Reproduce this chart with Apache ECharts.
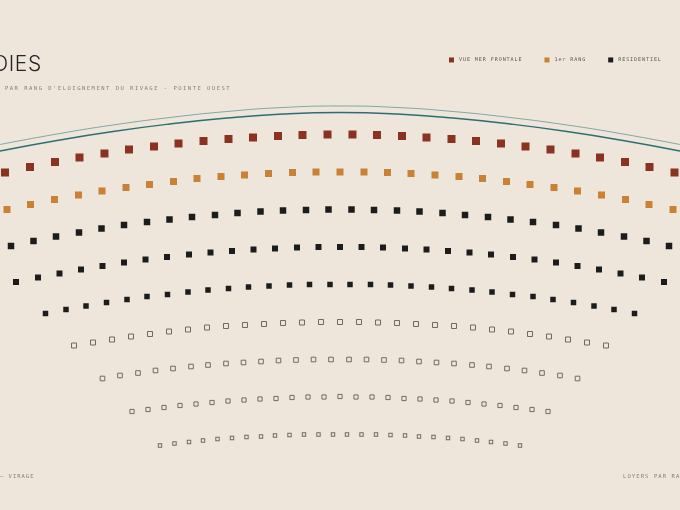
<!DOCTYPE html>
<html>
<head>
<meta charset="utf-8">
<script src="https://cdn.jsdelivr.net/npm/echarts@6/dist/echarts.min.js"></script>
<style>
  html, body { margin: 0; padding: 0; background: #eee6da; }
  #chart { width: 680px; height: 510px; }
</style>
</head>
<body>
<div id="chart"></div>
<script>
// letter-spacing support for canvas text (font family marker "lspNN" = NN/10 px)
(function () {
  var P = CanvasRenderingContext2D.prototype;
  function apply(ctx) {
    var m = /lsp(\d+)/.exec(ctx.font);
    var v = m ? (m[1] / 10) + 'px' : '0px';
    if ('letterSpacing' in ctx && ctx.letterSpacing !== v) ctx.letterSpacing = v;
  }
  var f = P.fillText, s = P.strokeText, mt = P.measureText;
  P.fillText = function () { apply(this); return f.apply(this, arguments); };
  P.strokeText = function () { apply(this); return s.apply(this, arguments); };
  P.measureText = function () { apply(this); return mt.apply(this, arguments); };
})();

// ---- data: seat position across the bay (x) and depth from the shore line (y) ----
const row1X = [-335,-310,-285,-260.5,-235.5,-211,-186,-161.5,-136.5,-111.5,-87,-62,-37.5,-12.5,12.5,37,62,86.5,111.5,136,161,185.5,210.5,235.5,260,285,309.5,334.5];
const row1Y = [172.5,167,162,157.5,153.5,149.5,146.5,143.5,141,139,137.5,136,135,134.5,134.5,135,136,137.5,139,141,143.5,146.5,149.5,153.5,157.5,162,167,172.5];

const row2X = [-333,-309.5,-285.5,-261.5,-238,-214,-190.5,-166.5,-143,-119,-95.5,-71.5,-47.5,-24,0,24,47.5,71,95,119,142.5,166.5,190,214,237.5,261.5,285.5,309,333];
const row2Y = [209.5,204.5,199.5,195,191,187.5,184.5,181.5,178.5,176.5,175,173.5,172.5,172,172,172,172.5,173.5,175,176.5,178.5,181.5,184.5,187.5,191,195,199.5,204.5,209.5];

const row3X = [-329,-306.5,-284,-261,-238.5,-216,-193,-170.5,-148,-125,-102.5,-79.5,-57,-34,-11.5,11.5,34,57,79.5,102.5,125,148,170.5,193,216,238.5,261,284,306.5,329];
const row3Y = [246,241,236.5,232.5,228.5,225,222,219.5,217,215,213,211.5,210.5,210,209.5,209.5,210,210.5,211.5,213,215,217,219.5,222,225,228.5,232.5,236.5,241,246];

const row4X = [-324,-302,-280.5,-259,-237.5,-216,-194.5,-173,-151,-129.5,-108,-86.5,-65,-43,-21.5,0,21.5,43,65,86.5,108,129.5,151,173,194.5,216,237.5,259,280.5,302,324];
const row4Y = [282,277.5,273.5,269.5,266,262.5,259.5,257,254.5,252.5,251,249.5,248.5,247.5,247,247,247,247.5,248.5,249.5,251,252.5,254.5,257,259.5,262.5,266,269.5,273.5,277.5,282];

const row5X = [-294.5,-274,-254,-233.5,-213,-193,-172.5,-152,-132,-111.5,-91.5,-71,-50.5,-30.5,-10,10,30.5,50.5,71,91.5,111.5,132,152,172.5,193,213,233.5,254,274,294.5];
const row5Y = [313.5,309.5,306,302.5,299.5,296.5,294.5,292,290,288.5,287,286,285,284.5,284.5,284.5,284.5,285,286,287,288.5,290,292,294.5,296.5,299.5,302.5,306,309.5,313.5];

const row6X = [-266,-247,-228,-209,-190,-171,-152,-133,-114,-95,-76,-57,-38,-19,0,19,38,57,76,95,114,133,152,171,190,209,228,247,266];
const row6Y = [345.5,342.5,339.5,336.5,334,331.5,329.5,327.5,326,325,324,323,322.5,322,322,322,322.5,323,324,325,326,327.5,329.5,331.5,334,336.5,339.5,342.5,345.5];

const row7X = [-237.5,-220,-202,-184.5,-167,-149,-132,-114,-96.5,-79,-61.5,-44,-26.5,-9,9,26.5,44,61.5,79,96.5,114,132,149,167,184.5,202,220,237.5];
const row7Y = [378.5,375.5,373,370.5,368.5,366.5,365,363.5,362.5,361.5,360.5,360,359.5,359.5,359.5,359.5,360,360.5,361.5,362.5,363.5,365,366.5,368.5,370.5,373,375.5,378.5];

const row8X = [-208,-192,-176,-160,-144,-128,-112,-96,-80,-64,-48,-32,-16,0,16,32,48,64,80,96,112,128,144,160,176,192,208];
const row8Y = [411.5,409.5,407.5,405.5,404,402.5,401,400,399,398.5,397.5,397,397,396.5,397,397,397.5,398.5,399,400,401,402.5,404,405.5,407.5,409.5,411.5];

const row9X = [-180,-165.5,-151,-137,-122.5,-108,-93.5,-79,-65,-50.5,-36,-21.5,-7,7,21.5,36,50.5,65,79,93.5,108,122.5,137,151,165.5,180];
const row9Y = [445.5,443.5,442,440.5,439,438,437,436.5,435.5,435,434.5,434.5,434.5,434.5,434.5,434.5,435,435.5,436.5,437,438,439,440.5,442,443.5,445.5];

// shore line (two strokes)
const shoreX = [-340,-283,-227,-170,-113,-57,0,57,113,170,227,283,340];
const shoreOuterY = [144.5,134,125,117.5,111.5,107.5,106,107.5,111.5,117.5,125,134,144.5];
const shoreInnerY = [151,140.5,131.5,124,118,114,112.5,114,118,124,131.5,140.5,151];

const legendNames = ['VUE MER FRONTALE', '1er RANG', 'RESIDENTIEL'];
const titleText = 'DIES';
const subtitleText = "PAR RANG D'ELOIGNEMENT DU RIVAGE - POINTE OUEST";
const footLeft = '— VIRAGE';
const footRight = 'LOYERS PAR RANG';

// ---- styling ----
const BG = '#eee6da';
const RED = '#8a3322';
const ORANGE = '#c98135';
const BLACK = '#1c1c1c';
const HOLLOW = '#6f6962';

function pts(xs, ys) { return xs.map(function (x, i) { return [x, ys[i]]; }); }

function seatSeries(name, xs, ys, size, filled, color) {
  return {
    type: 'scatter', name: name, symbol: 'rect', symbolSize: size,
    data: pts(xs, ys), silent: true, z: 3,
    itemStyle: filled
      ? { color: color, opacity: 1 }
      : { color: BG, borderColor: HOLLOW, borderWidth: 1, opacity: 1 }
  };
}

function lineSeries(xs, ys, color, width, opacity) {
  return {
    type: 'line', data: pts(xs, ys), smooth: true, symbol: 'none', silent: true,
    lineStyle: { color: color, width: width, opacity: opacity }, z: 1
  };
}

const chart = echarts.init(document.getElementById('chart'), null, { renderer: 'canvas' });

chart.setOption({
  backgroundColor: BG,
  animation: false,
  grid: { left: 0, right: 0, top: 0, bottom: 0 },
  xAxis: { type: 'value', min: -340, max: 340, show: false },
  yAxis: { type: 'value', min: 0, max: 510, inverse: true, show: false },
  legend: {
    data: legendNames,
    left: 449, top: 57,
    icon: 'rect', itemWidth: 5, itemHeight: 5, itemGap: 22, padding: 0,
    selectedMode: false,
    itemStyle: { opacity: 1 },
    textStyle: { fontFamily: "'DejaVu Sans Mono', lsp9, monospace", fontSize: 5.1, color: '#5a5650', padding: [0, 0, 0, 0] }
  },
  graphic: [
    { type: 'text', x: -7, y: 65, style: { text: titleText, font: "300 21px Inter, lsp6, sans-serif", fill: '#262626', textVerticalAlign: 'middle' } },
    { type: 'text', x: 5, y: 89, style: { text: subtitleText, font: "5.5px 'DejaVu Sans Mono', lsp15, monospace", fill: '#86817a', textVerticalAlign: 'middle' } },
    { type: 'text', x: 0, y: 477, style: { text: footLeft, font: "5.5px 'DejaVu Sans Mono', lsp10, monospace", fill: '#86817a', textVerticalAlign: 'middle' } },
    { type: 'text', x: 623, y: 477, style: { text: footRight, font: "5.5px 'DejaVu Sans Mono', lsp11, monospace", fill: '#86817a', textVerticalAlign: 'middle' } }
  ],
  series: [
    lineSeries(shoreX, shoreOuterY, '#6f9a9a', 1, 0.85),
    lineSeries(shoreX, shoreInnerY, '#2e6e72', 1.4, 1),
    seatSeries('VUE MER FRONTALE', row1X, row1Y, 8, true, RED),
    seatSeries('1er RANG', row2X, row2Y, 7, true, ORANGE),
    seatSeries('RESIDENTIEL', row3X, row3Y, 6.5, true, BLACK),
    seatSeries('RESIDENTIEL', row4X, row4Y, 6, true, BLACK),
    seatSeries('RESIDENTIEL', row5X, row5Y, 5.5, true, BLACK),
    seatSeries('LIBRE', row6X, row6Y, 5, false),
    seatSeries('LIBRE', row7X, row7Y, 4.6, false),
    seatSeries('LIBRE', row8X, row8Y, 4.2, false),
    seatSeries('LIBRE', row9X, row9Y, 3.4, false)
  ]
});
</script>
</body>
</html>
